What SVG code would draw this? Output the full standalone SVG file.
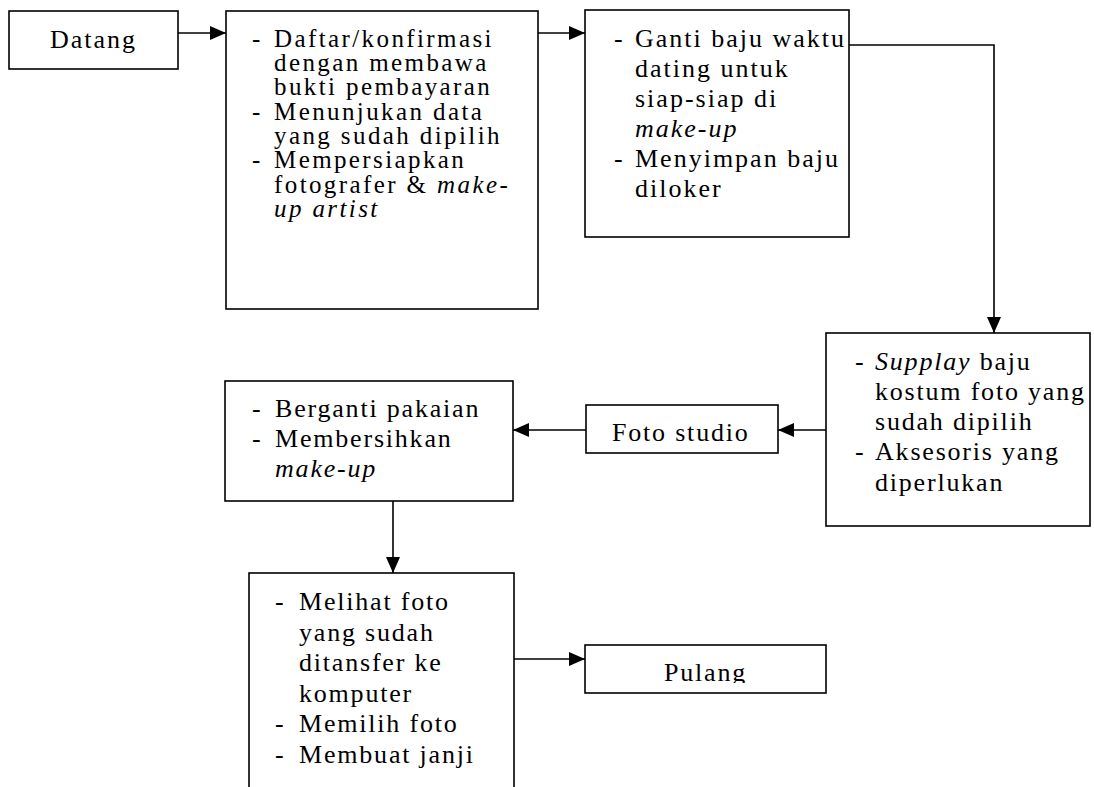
<svg xmlns="http://www.w3.org/2000/svg" width="1094" height="787" viewBox="0 0 1094 787">
<style>
.box{fill:#fff;stroke:#000;stroke-width:1.6}
.c{fill:none;stroke:#000;stroke-width:1.6}
text{font-family:"Liberation Serif","Times New Roman",serif;fill:#000}
.s{font-size:25px;letter-spacing:2.4px}
.m{font-size:26px;letter-spacing:2px}
.l{font-size:26px;letter-spacing:1.8px}
.i{font-style:italic}
</style>
<defs>
<marker id="ah" markerUnits="userSpaceOnUse" markerWidth="16" markerHeight="14" refX="16" refY="7" orient="auto">
<path d="M0,0 L16,7 L0,14 Z" fill="#000"/>
</marker>
<clipPath id="pc"><rect x="586" y="646" width="240" height="37"/></clipPath>
</defs>
<rect width="1094" height="787" fill="#fff"/>
<g id="n-datang">
<rect class="box" x="9" y="11" width="169" height="58"/>
<text class="m" x="50" y="48">Datang</text>
</g>
<g id="n-daftar">
<rect class="box" x="226" y="11" width="312" height="298"/>
<text class="s">
<tspan x="252" y="46.7">-</tspan><tspan x="274" y="46.7">Daftar/konfirmasi</tspan>
<tspan x="274" y="71">dengan membawa</tspan>
<tspan x="274" y="95.3">bukti pembayaran</tspan>
<tspan x="252" y="119.6">-</tspan><tspan x="274" y="119.6">Menunjukan data</tspan>
<tspan x="274" y="143.9">yang sudah dipilih</tspan>
<tspan x="252" y="168.2">-</tspan><tspan x="274" y="168.2">Mempersiapkan</tspan>
<tspan x="274" y="192.5">fotografer &amp; <tspan class="i">make-</tspan></tspan>
<tspan x="274" y="216.8" class="i">up artist</tspan>
</text>
</g>
<g id="n-ganti">
<rect class="box" x="585" y="10" width="264" height="227"/>
<text class="m">
<tspan x="614" y="47">-</tspan><tspan x="635" y="47">Ganti baju waktu</tspan>
<tspan x="635" y="77">dating untuk</tspan>
<tspan x="635" y="107">siap-siap di</tspan>
<tspan x="635" y="137" class="i">make-up</tspan>
<tspan x="614" y="167">-</tspan><tspan x="635" y="167">Menyimpan baju</tspan>
<tspan x="635" y="197">diloker</tspan>
</text>
</g>
<g id="n-supplay">
<rect class="box" x="826" y="333" width="264" height="193"/>
<text class="l">
<tspan x="855" y="370">-</tspan><tspan x="875" y="370"><tspan class="i">Supplay</tspan> baju</tspan>
<tspan x="875" y="400">kostum foto yang</tspan>
<tspan x="875" y="430">sudah dipilih</tspan>
<tspan x="855" y="460">-</tspan><tspan x="875" y="460">Aksesoris yang</tspan>
<tspan x="875" y="491">diperlukan</tspan>
</text>
</g>
<g id="n-foto">
<rect class="box" x="586" y="405" width="192" height="48"/>
<text class="l" x="612" y="441">Foto studio</text>
</g>
<g id="n-berganti">
<rect class="box" x="225" y="381" width="288" height="120"/>
<text class="l">
<tspan x="252" y="417">-</tspan><tspan x="275" y="417">Berganti pakaian</tspan>
<tspan x="252" y="447">-</tspan><tspan x="275" y="447">Membersihkan</tspan>
<tspan x="275" y="477" class="i">make-up</tspan>
</text>
</g>
<g id="n-melihat">
<rect class="box" x="249" y="573" width="265" height="240"/>
<text class="l">
<tspan x="275" y="610">-</tspan><tspan x="299" y="610">Melihat foto</tspan>
<tspan x="299" y="640.5">yang sudah</tspan>
<tspan x="299" y="671">ditansfer ke</tspan>
<tspan x="299" y="701.5">komputer</tspan>
<tspan x="275" y="732">-</tspan><tspan x="299" y="732">Memilih foto</tspan>
<tspan x="275" y="762.5">-</tspan><tspan x="299" y="762.5">Membuat janji</tspan>
</text>
</g>
<g id="n-pulang">
<rect class="box" x="585" y="645" width="241" height="48"/>
<text class="l" x="664" y="681" clip-path="url(#pc)">Pulang</text>
</g>
<g id="connectors">
<path class="c" d="M178,33 H226" marker-end="url(#ah)"/>
<path class="c" d="M538,33 H585" marker-end="url(#ah)"/>
<path class="c" d="M849,45 H994 V333" marker-end="url(#ah)"/>
<path class="c" d="M826,430 H778" marker-end="url(#ah)"/>
<path class="c" d="M586,430 H513" marker-end="url(#ah)"/>
<path class="c" d="M393,501 V573" marker-end="url(#ah)"/>
<path class="c" d="M514,659 H585" marker-end="url(#ah)"/>
</g>
</svg>
